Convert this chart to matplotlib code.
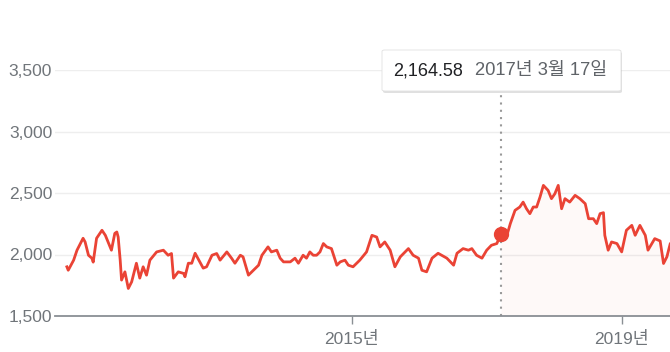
import numpy as np
import matplotlib.pyplot as plt
from matplotlib.patches import FancyBboxPatch

plt.rcParams['font.family'] = ['Liberation Sans', 'Noto Sans CJK KR']

# decimal years and index values
years = [2010.78, 2010.80, 2010.88, 2010.93, 2011.02, 2011.05, 2011.10, 2011.15, 2011.17,
         2011.22, 2011.30, 2011.35, 2011.39, 2011.44, 2011.49, 2011.52, 2011.54, 2011.57,
         2011.59, 2011.64, 2011.69, 2011.74, 2011.81, 2011.86, 2011.91, 2011.96, 2012.01,
         2012.11, 2012.21, 2012.28, 2012.33, 2012.36, 2012.43, 2012.51, 2012.53, 2012.58,
         2012.63, 2012.68, 2012.75, 2012.80, 2012.85, 2012.93, 2013.00, 2013.05, 2013.15,
         2013.22, 2013.27, 2013.35, 2013.39, 2013.47, 2013.52, 2013.57, 2013.62, 2013.67,
         2013.76, 2013.81, 2013.89, 2013.94, 2013.99, 2014.09, 2014.16, 2014.21, 2014.28,
         2014.33, 2014.38, 2014.43, 2014.48, 2014.53, 2014.58, 2014.63, 2014.70, 2014.78,
         2014.83, 2014.90, 2014.95, 2015.02, 2015.12, 2015.22, 2015.30, 2015.37, 2015.42,
         2015.49, 2015.57, 2015.64, 2015.72, 2015.84, 2015.91, 2015.99, 2016.04, 2016.11,
         2016.19, 2016.28, 2016.41, 2016.51, 2016.56, 2016.65, 2016.73, 2016.78, 2016.85,
         2016.93, 2017.00, 2017.07, 2017.15, 2017.21, 2017.30, 2017.35, 2017.42, 2017.49,
         2017.54, 2017.59, 2017.64, 2017.69, 2017.74, 2017.79, 2017.84, 2017.91, 2017.96,
         2018.01, 2018.06, 2018.11, 2018.16, 2018.23, 2018.31, 2018.38, 2018.46, 2018.51,
         2018.58, 2018.63, 2018.68, 2018.73, 2018.75, 2018.80, 2018.85, 2018.93, 2019.00,
         2019.07, 2019.15, 2019.20, 2019.27, 2019.35, 2019.39, 2019.49, 2019.57, 2019.62,
         2019.67, 2019.72, 2019.76]
values = [1900, 1872, 1954, 2035, 2132, 2102, 1994, 1970, 1938,
          2132, 2197, 2156, 2102, 2035, 2172, 2183, 2142, 1954,
          1792, 1859, 1724, 1778, 1929, 1808, 1900, 1832, 1954,
          2021, 2035, 1994, 2008, 1808, 1859, 1846, 1819, 1929,
          1929, 2010, 1940, 1889, 1900, 1994, 2008, 1954, 2021,
          1970, 1929, 1994, 1981, 1832, 1859, 1886, 1913, 1994,
          2062, 2021, 2035, 1970, 1940, 1940, 1970, 1929, 1994,
          1970, 2021, 1994, 1994, 2021, 2089, 2062, 2048, 1913,
          1940, 1954, 1913, 1900, 1954, 2021, 2156, 2142, 2062,
          2102, 2035, 1900, 1981, 2048, 1994, 1970, 1872, 1859,
          1970, 2010, 1970, 1913, 2010, 2048, 2035, 2048, 1994,
          1970, 2035, 2075, 2089, 2164.58, 2156, 2251, 2359, 2386,
          2426, 2372, 2332, 2386, 2386, 2467, 2562, 2521, 2454,
          2494, 2562, 2372, 2454, 2426, 2481, 2454, 2413, 2291,
          2291, 2251, 2332, 2340, 2156, 2035, 2102, 2089, 2021,
          2197, 2237, 2156, 2237, 2156, 2035, 2129, 2110, 1927,
          1981, 2089, 2100]
hover_year = 2017.21
hover_value = 2164.58
hover_label = '2,164.58'
hover_date = '2017년 3월 17일'
xtick_years = [2015, 2019]
xtick_labels = ['2015년', '2019년']
yticks = [1500, 2000, 2500, 3000, 3500]

red = '#ea4335'
grey = '#70757a'

fig = plt.figure(figsize=(6.70, 3.52), dpi=100)
ax = fig.add_axes([55/670, 36/352, 615/670, 246/352])
ax.set_xlim(2010.604, 2019.716)
ax.set_ylim(1500, 3500)

ax.plot(years, values, color=red, linewidth=2.0, solid_joinstyle='round')

x = np.array(years)
y = np.array(values)
m = x >= hover_year
ax.fill_between(x[m], y[m], 1500, color=red, alpha=0.03, linewidth=0)

ax.set_yticks(yticks)
ax.set_yticklabels([f'{v:,}' for v in yticks])
ax.set_xticks(xtick_years)
ax.set_xticklabels(xtick_labels)
ax.grid(axis='y', color='#eeeeee', linewidth=1)
ax.set_axisbelow(True)
for s in ['top', 'right', 'left']:
    ax.spines[s].set_visible(False)
ax.spines['bottom'].set_color('#8a8f94')
ax.spines['bottom'].set_linewidth(1.3)
ax.tick_params(axis='y', length=0, pad=2, labelsize=12.5, labelcolor=grey)
ax.tick_params(axis='x', length=6, width=1, color='#8a8f94', pad=5, labelsize=12.5, labelcolor=grey)

# hover line and marker
ax.plot([hover_year, hover_year], [1500, 3340], color='#999999', linewidth=1.5,
        linestyle=(0, (1, 2.5)), clip_on=False)
ax.plot(hover_year, hover_value, 'o', color=red, markersize=10, zorder=5)

# tooltip
shadow = FancyBboxPatch((383/670, (352-93)/352), 239/670, 41/352,
                        boxstyle='round,pad=0,rounding_size=0.004',
                        transform=fig.transFigure, facecolor='#000000', alpha=0.12,
                        edgecolor='none')
box = FancyBboxPatch((382/670, (352-91)/352), 239/670, 41/352,
                     boxstyle='round,pad=0,rounding_size=0.004',
                     transform=fig.transFigure, facecolor='white',
                     edgecolor='#e0e0e0', linewidth=0.6)
fig.patches.append(shadow)
fig.patches.append(box)
fig.text(393/670, (352-71)/352, hover_label, color='#202124', fontsize=13, va='center')
fig.text(607/670, (352-71)/352, hover_date, color='#5f6368', fontsize=13.2, va='center', ha='right')

fig.savefig('out.png', dpi=100)
